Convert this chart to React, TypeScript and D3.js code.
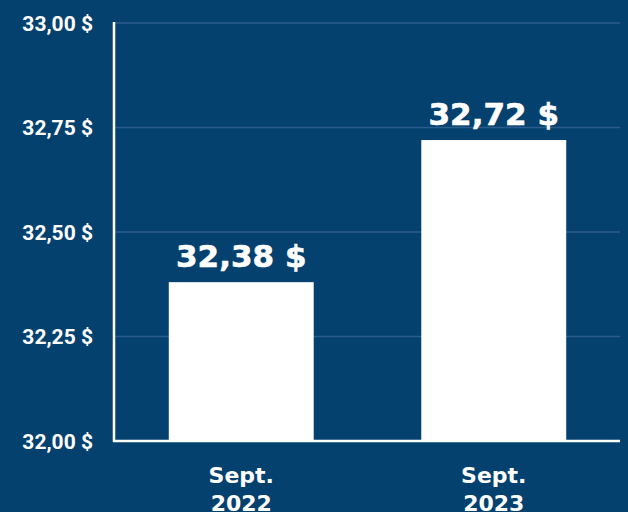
import React from "react";
import * as d3 from "d3";

const categories = [["Sept.", "2022"], ["Sept.", "2023"]];
const values = [32.38, 32.72];
const yTicks = [32.0, 32.25, 32.5, 32.75, 33.0];

const W = 628;
const H = 512;
const BG = "#05416f";
const GRID = "#2b5d8c";

const fmt = (v: number, d: number) => v.toFixed(d).replace(".", ",") + " $";

export default function App() {
  const x = d3
    .scaleBand<number>()
    .domain(values.map((_, i) => i))
    .range([115, 620])
    .paddingInner(0.426)
    .paddingOuter(0.213);
  const y = d3.scaleLinear().domain([32, 33]).range([441, 23]);

  return (
    <svg
      width={W}
      height={H}
      style={{ position: "absolute", left: 0, top: 0, display: "block" }}
    >
      <rect x={0} y={0} width={W} height={H} fill={BG} />
      {yTicks.map((t) => (
        <g key={t}>
          {t > 32 && (
            <line x1={115} x2={620} y1={y(t)} y2={y(t)} stroke={GRID} strokeWidth={1.3} />
          )}
          <text
            x={93}
            y={y(t)}
            dy="0.36em"
            textAnchor="end"
            fill="#fff"
            fontFamily="Roboto, sans-serif"
            fontWeight={700}
            fontSize={21}
          >
            {fmt(t, 2)}
          </text>
        </g>
      ))}
      {values.map((v, i) => (
        <g key={i}>
          <rect
            x={x(i)}
            y={y(v)}
            width={x.bandwidth()}
            height={y(32) - y(v)}
            fill="#fff"
          />
          <text
            x={(x(i) as number) + x.bandwidth() / 2}
            y={y(v) - 15}
            textAnchor="middle"
            fill="#fff"
            fontFamily="'DejaVu Sans', sans-serif"
            fontWeight="bold"
            fontSize={31}
            stroke="#fff"
            strokeWidth={0.6}
          >
            {fmt(v, 2)}
          </text>
          {categories[i].map((line, j) => (
            <text
              key={j}
              x={(x(i) as number) + x.bandwidth() / 2}
              y={483 + j * 28}
              textAnchor="middle"
              fill="#fff"
              fontFamily="'DejaVu Sans', sans-serif"
              fontWeight="bold"
              fontSize={22}
            >
              {line}
            </text>
          ))}
        </g>
      ))}
      <line x1={114} x2={114} y1={22} y2={442} stroke="#fff" strokeWidth={2.5} />
      <line x1={113} x2={620} y1={441} y2={441} stroke="#fff" strokeWidth={2.5} />
    </svg>
  );
}
